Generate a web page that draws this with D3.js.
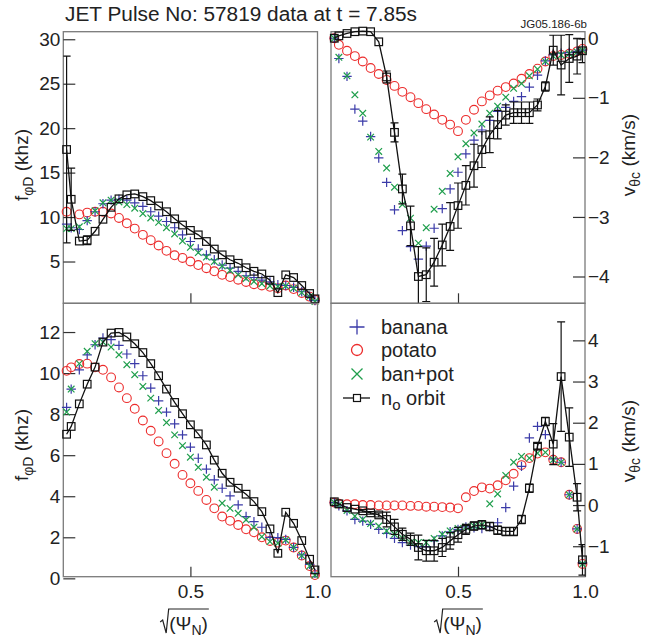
<!DOCTYPE html>
<html>
<head>
<meta charset="utf-8">
<script src="https://cdn.jsdelivr.net/npm/d3@7"></script>
<style>
  body { margin: 0; background: #fff; }
  text { font-family: "Liberation Sans", Arial, sans-serif; fill: #222; }
</style>
</head>
<body>
<svg id="chart"></svg>
<script>
// radial coordinate sqrt(psi_N), shared by every panel
const psi = [0.013, 0.031, 0.063, 0.094, 0.125, 0.156, 0.188, 0.219, 0.25, 0.281, 0.313, 0.344, 0.375, 0.406, 0.438, 0.469, 0.5,
             0.531, 0.563, 0.594, 0.625, 0.656, 0.688, 0.719, 0.75, 0.781, 0.813, 0.844, 0.875, 0.906, 0.938, 0.969, 0.99];

// top left: f_phiD (khz)
const bananaTL = [9.2, 8.8, 8.6, 9.6, 10.6, 11.5, 11.9, 12.0, 11.9, 11.6, 11.2, 10.6, 10.1, 9.5, 8.8, 8.0, 7.25,
                  6.4, 5.75, 5.2, 4.6, 4.25, 3.9, 3.4, 3.2, 2.9, 2.7, 2.4, 2.3, 2.1, 1.6, 1.1, 0.6];
const potatoTL = [10.6, null, 10.3, 10.5, 10.6, 10.6, 10.4, 9.9, 9.3, 8.7, 8.0, 7.4, 6.8, 6.2, 5.7, 5.4, 5.0,
                  4.6, 4.25, 3.9, 3.5, 3.25, 2.95, 2.7, 2.45, 2.3, 2.15, 2.0, 2.3, 1.9, 1.45, 1.05, 0.7];
const banpotTL = [8.7, 8.7, 8.9, 9.6, 10.7, 11.6, 11.9, 11.7, 11.4, 11.0, 10.4, 9.9, 9.4, 8.8, 8.1, 7.3, 6.6,
                  6.0, 5.5, 5.0, 4.5, 4.0, 3.5, 3.1, 2.75, 2.5, 2.25, 2.2, 2.25, 2.0, 1.5, 1.05, 0.5];
const orbitTL  = [17.6, 12.0, 7.3, 7.4, 8.4, 9.75, 11.1, 12.05, 12.5, 12.6, 12.3, 11.85, 11.25, 10.6, 9.8, 9.1, 8.5,
                  8.0, 7.25, 6.4, 5.75, 5.2, 4.8, 4.3, 3.9, 3.6, 2.9, 1.5, 3.5, 3.2, 2.3, 1.4, 0.8];
const orbitErrTL = [10.5, 3.5, 0, 0.5, 0, 0, 0, 0, 0, 0, 0, 0, 0, 0, 0, 0, 0,
                    0, 0, 0, 0, 0, 0, 0, 0, 0, 0, 0, 0, 0, 0, 0, 0];

// top right: v_thetac (km/s)
const bananaTR = [0, -0.34, -0.64, -1.19, -1.39, -1.65, -2.01, -2.42, -2.88, -3.23, -3.5, -3.71, -3.49, -3.19, -2.86, -2.53, -2.25,
                  -1.94, -1.71, -1.54, -1.38, -1.23, -1.16, -1.06, -0.98, -0.82, -0.62, -0.38, -0.28, -0.25, -0.24, -0.22, -0.2];
const potatoTR = [0, -0.11, -0.21, -0.30, -0.39, -0.50, -0.60, -0.70, -0.80, -0.90, -0.99, -1.09, -1.19, -1.28, -1.37, -1.45, -1.56,
                  -1.37, -1.20, -1.06, -0.96, -0.88, -0.82, -0.76, -0.68, -0.60, -0.51, -0.39, -0.30, -0.28, -0.26, -0.22, -0.18];
const banpotTR = [0, -0.32, -0.63, -0.95, -1.26, -1.66, -1.90, -2.18, -2.50, -2.79, -3.02, -3.44, -3.18, -2.87, -2.57, -2.27, -1.99,
                  -1.77, -1.59, -1.44, -1.26, -1.14, -0.99, -0.84, -0.76, -0.63, -0.52, -0.39, -0.30, -0.28, -0.26, -0.23, -0.2];
const orbitTR  = [0, 0.04, 0.08, 0.11, 0.12, 0.11, -0.06, -0.65, -1.58, -2.53, -3.15, -4.0, -3.97, -3.76, -3.47, -3.16, -2.81,
                  -2.47, -2.14, -1.87, -1.62, -1.45, -1.29, -1.25, -1.25, -1.25, -1.12, -0.81, -0.20, -0.45, -0.34, -0.30, -0.21];
const orbitErrTR = [0, 0, 0, 0, 0, 0, 0, 0.1, 0.16, 0.25, 0.33, 0.5, 0.45, 0.4, 0.35, 0.4, 0.38,
                    0.33, 0.36, 0.3, 0.3, 0.24, 0.17, 0.18, 0.18, 0.18, 0.1, 0.08, 0.25, 0.5, 0.4, 0.3, 0.2];

// bottom left: f_phiD (khz)
const bananaBL = [8.33, 9.22, 10.16, 10.89, 11.38, 11.71, 11.63, 11.35, 10.93, 10.46, 9.87, 9.27, 8.65, 8.10, 7.53, 6.99, 6.39,
                  5.85, 5.32, 4.80, 4.39, 4.02, 3.58, 3.01, 2.76, 2.49, 2.0, 1.98, 1.9, 1.51, 1.14, 0.68, 0.24];
const potatoBL = [10.11, 10.28, 10.44, 10.46, 10.28, 10.16, 9.79, 9.30, 8.78, 8.26, 7.69, 7.19, 6.67, 6.10, 5.58, 5.04, 4.63,
                  4.26, 3.82, 3.41, 3.01, 2.80, 2.60, 2.39, 2.24, 2.0, 1.82, 1.74, 1.84, 1.50, 1.11, 0.60, 0.16];
const banpotBL = [8.10, 9.22, 10.46, 11.06, 11.43, 11.51, 11.27, 10.89, 10.41, 9.92, 9.35, 8.78, 8.18, 7.59, 6.99, 6.46, 5.90,
                  5.41, 4.93, 4.44, 3.66, 3.41, 3.17, 2.85, 2.49, 2.03, 1.79, 1.71, 1.87, 1.51, 1.11, 0.60, 0.16];
const orbitBL  = [7.02, 7.40, 8.50, 9.46, 10.29, 11.51, 11.95, 11.98, 11.76, 11.43, 11.0, 10.46, 9.87, 9.22, 8.57, 8.02, 7.48,
                  7.04, 6.50, 5.76, 5.12, 4.68, 4.39, 4.10, 3.74, 3.25, 2.41, 1.22, 3.22, 2.68, 1.84, 0.93, 0.41];

// bottom right: v_thetac (km/s)
const bananaBR = [0.06, -0.02, -0.14, -0.35, -0.39, -0.47, -0.59, -0.69, -0.81, -0.91, -0.97, -1.01, -1.01, -0.87, -0.75, -0.65, -0.59,
                  -0.53, -0.55, -0.57, -0.53, -0.43, -0.06, 0.46, 0.94, 1.63, 1.91, 1.71, 1.12, 1.04, 0.25, -0.58, -1.40];
const potatoBR = [0.06, 0.03, 0.02, 0.02, 0.0, 0.0, -0.01, -0.01, -0.01, -0.01, -0.02, -0.02, -0.04, -0.04, -0.05, -0.06, -0.08,
                  0.19, 0.34, 0.43, 0.40, 0.48, 0.60, 0.76, 0.97, 1.14, 1.25, 1.28, 1.10, 1.04, 0.25, -0.58, -1.43];
const banpotBR = [0.06, 0.0, -0.13, -0.27, -0.35, -0.45, -0.51, -0.63, -0.71, -0.80, -0.91, -0.91, -0.91, -0.81, -0.71, -0.63, -0.57,
                  -0.53, -0.51, -0.48, 0.03, 0.27, 0.72, 1.04, 1.18, 1.14, 1.26, 1.28, 1.10, 1.04, 0.25, -0.58, -1.43];
const orbitBR  = [0.08, 0.03, -0.06, -0.10, -0.14, -0.19, -0.24, -0.35, -0.53, -0.71, -0.83, -1.03, -1.11, -1.11, -1.03, -0.87, -0.72,
                  -0.59, -0.51, -0.48, -0.52, -0.61, -0.64, -0.64, -0.35, 0.41, 1.43, 2.03, 1.48, 3.12, 1.65, 0.19, -1.33];
const orbitErrBR = [0, 0, 0, 0, 0.03, 0.03, 0.05, 0.18, 0.18, 0.15, 0.15, 0.3, 0.25, 0.25, 0.22, 0.2, 0.18,
                    0.12, 0.1, 0.1, 0.1, 0.1, 0.1, 0.1, 0.1, 0.1, 0.07, 0.1, 0.5, 1.33, 0.71, 0.33, 0.37];

// tick values
const fTicksTop = [5, 10, 15, 20, 25, 30];
const vTicksTop = [0, -1, -2, -3, -4];
const fTicksBot = [0, 2, 4, 6, 8, 10, 12];
const vTicksBot = [-1, 0, 1, 2, 3, 4];
const psiTicks = [0.5, 1.0];

const seriesNames = ["banana", "potato", "ban+pot"];
const colors = { banana: "#3a3aa8", potato: "#ec2c2c", banpot: "#1f9e4c", orbit: "#111" };

const width = 651, height = 638;
const svg = d3.select("#chart").attr("width", width).attr("height", height);

const colL = [63.3, 317.5], colR = [331, 585];
const rowT = [31.7, 303.3], rowB = [303.3, 576.7];

const panels = [
    { id: "tl", xr: colL, yr: rowT, dom: [0.3, 30.85], ticks: fTicksTop, side: "left", labels: false,
      banana: bananaTL, potato: potatoTL, banpot: banpotTL, orbit: orbitTL, err: orbitErrTL },
    { id: "tr", xr: colR, yr: rowT, dom: [-4.45, 0.11], ticks: vTicksTop, side: "right", labels: false,
      banana: bananaTR, potato: potatoTR, banpot: banpotTR, orbit: orbitTR, err: orbitErrTR },
    { id: "bl", xr: colL, yr: rowB, dom: [0.08, 13.4], ticks: fTicksBot, side: "left", labels: true,
      banana: bananaBL, potato: potatoBL, banpot: banpotBL, orbit: orbitBL, err: null },
    { id: "br", xr: colR, yr: rowB, dom: [-1.74, 4.9], ticks: vTicksBot, side: "right", labels: true,
      banana: bananaBR, potato: potatoBR, banpot: banpotBR, orbit: orbitBR, err: orbitErrBR }
];

function plusPath(x, y, s) { return `M${x - s},${y}H${x + s}M${x},${y - s}V${y + s}`; }
function crossPath(x, y, s) { return `M${x - s},${y - s}L${x + s},${y + s}M${x - s},${y + s}L${x + s},${y - s}`; }

function drawPanel(p) {
    const x = d3.scaleLinear().domain([0, 1]).range(p.xr);
    const y = d3.scaleLinear().domain(p.dom).range([p.yr[1], p.yr[0]]);
    const g = svg.append("g");

    svg.append("clipPath").attr("id", "clip-" + p.id)
        .append("rect")
        .attr("x", p.xr[0]).attr("y", p.yr[0])
        .attr("width", p.xr[1] - p.xr[0]).attr("height", p.yr[1] - p.yr[0]);

    g.append("rect")
        .attr("x", p.xr[0]).attr("y", p.yr[0])
        .attr("width", p.xr[1] - p.xr[0]).attr("height", p.yr[1] - p.yr[0])
        .attr("fill", "none").attr("stroke", "#7a7a7a").attr("stroke-width", 1.3);

    // y axis, ticks pointing inward
    const yAxis = (p.side === "left" ? d3.axisLeft(y) : d3.axisRight(y))
        .tickValues(p.ticks).tickSizeInner(-12).tickSizeOuter(0).tickPadding(3)
        .tickFormat(d3.format("d"));
    const ya = g.append("g")
        .attr("transform", `translate(${p.side === "left" ? p.xr[0] : p.xr[1]},0)`)
        .call(yAxis);
    ya.select(".domain").remove();
    ya.attr("font-size", 19).attr("font-family", null).attr("color", "#333");
    ya.selectAll("line").attr("stroke-width", 1.2);

    const xAxis = d3.axisBottom(x)
        .tickValues(p.labels ? psiTicks : [0.5]).tickSizeInner(-10).tickSizeOuter(0).tickPadding(8)
        .tickFormat(p.labels ? d3.format(".1f") : "");
    const xa = g.append("g").attr("transform", `translate(0,${p.yr[1]})`).call(xAxis);
    xa.select(".domain").remove();
    xa.attr("font-size", 19).attr("font-family", null).attr("color", "#333");
    xa.selectAll("line").attr("stroke-width", 1.2);

    const pts = arr => psi.map((v, i) => ({ x: x(v), y: arr[i] == null ? null : y(arr[i]), i: i }))
        .filter(d => d.y != null);

    // potato
    g.append("g").selectAll("circle").data(pts(p.potato)).enter().append("circle")
        .attr("cx", d => d.x).attr("cy", d => d.y).attr("r", 4.4)
        .attr("fill", "none").attr("stroke", colors.potato).attr("stroke-width", 1.1);
    // banana
    g.append("g").selectAll("path").data(pts(p.banana)).enter().append("path")
        .attr("d", d => plusPath(d.x, d.y, 4.7))
        .attr("stroke", colors.banana).attr("stroke-width", 1.2).attr("fill", "none");
    // ban+pot
    g.append("g").selectAll("path").data(pts(p.banpot)).enter().append("path")
        .attr("d", d => crossPath(d.x, d.y, 3.3))
        .attr("stroke", colors.banpot).attr("stroke-width", 1.2).attr("fill", "none");

    // n_o orbit: error bars, line, squares
    if (p.err) {
        const eb = g.append("g").attr("clip-path", `url(#clip-${p.id})`)
            .attr("stroke", colors.orbit).attr("stroke-width", 1.2).attr("fill", "none");
        psi.forEach((v, i) => {
            const e = p.err[i];
            if (!e) return;
            const cx = x(v), y0 = y(p.orbit[i] - e), y1 = y(p.orbit[i] + e);
            eb.append("path").attr("d", `M${cx},${y0}V${y1}M${cx - 4},${y0}H${cx + 4}M${cx - 4},${y1}H${cx + 4}`);
        });
    }
    const line = d3.line().x(d => d.x).y(d => d.y);
    g.append("path").datum(pts(p.orbit)).attr("d", line)
        .attr("fill", "none").attr("stroke", colors.orbit).attr("stroke-width", 1.3);
    g.append("g").selectAll("rect").data(pts(p.orbit)).enter().append("rect")
        .attr("x", d => d.x - 3.8).attr("y", d => d.y - 3.8).attr("width", 7.6).attr("height", 7.6)
        .attr("fill", "none").attr("stroke", colors.orbit).attr("stroke-width", 1.2);
}

panels.forEach(drawPanel);

// title and figure id
svg.append("text").attr("x", 65).attr("y", 20.5).attr("font-size", 20)
    .attr("textLength", 352).attr("lengthAdjust", "spacingAndGlyphs")
    .text("JET Pulse No: 57819 data at t = 7.85s");
svg.append("text").attr("x", 587).attr("y", 28).attr("font-size", 11.5).attr("text-anchor", "end")
    .text("JG05.186-6b");

// y labels
function yLabel(px, py, main, sub, rest) {
    const t = svg.append("text").attr("transform", `translate(${px},${py}) rotate(-90)`)
        .attr("text-anchor", "middle").attr("font-size", 19);
    t.append("tspan").text(main);
    t.append("tspan").attr("font-size", 14).attr("dy", 5).text(sub);
    t.append("tspan").attr("dy", -5).text(rest);
}
yLabel(28, 165, "f", "\u03c6D", " (khz)");
yLabel(28, 445, "f", "\u03c6D", " (khz)");
yLabel(635, 155, "v", "\u03b8c", " (km/s)");
yLabel(635, 441, "v", "\u03b8c", " (km/s)");

// x labels: sqrt(Psi_N) with a drawn radical sign
function psiLabel(cx) {
    const yb = 630;
    const t = svg.append("text").attr("y", yb).attr("font-size", 19);
    t.append("tspan").text("(\u03a8");
    t.append("tspan").attr("font-size", 14).attr("dy", 5).text("N");
    t.append("tspan").attr("dy", -5).text(")");
    const w = t.node().getComputedTextLength();
    const sx = cx - (w + 9) / 2 + 9;
    t.attr("x", sx);
    svg.append("path")
        .attr("d", `M${sx - 9},${yb - 8}L${sx - 6.5},${yb - 10}L${sx - 3},${yb + 3}L${sx - 0.5},${yb - 21}H${sx + w + 1}`)
        .attr("fill", "none").attr("stroke", "#222").attr("stroke-width", 1.2);
}
psiLabel(184);
psiLabel(458);

// legend in the bottom-right panel
const lg = svg.append("g");
const legY = [327, 350, 374, 398];
const symX = 357, txtX = 381;
lg.append("path").attr("d", plusPath(symX, legY[0], 7.5))
    .attr("stroke", colors.banana).attr("stroke-width", 1.3);
lg.append("circle").attr("cx", symX).attr("cy", legY[1]).attr("r", 5.5)
    .attr("fill", "none").attr("stroke", colors.potato).attr("stroke-width", 1.3);
lg.append("path").attr("d", crossPath(symX, legY[2], 5.5))
    .attr("stroke", colors.banpot).attr("stroke-width", 1.3);
lg.append("path").attr("d", `M${symX - 14},${legY[3]}H${symX + 13}`)
    .attr("stroke", colors.orbit).attr("stroke-width", 1.3);
lg.append("rect").attr("x", symX - 3.5).attr("y", legY[3] - 3.5).attr("width", 7).attr("height", 7)
    .attr("fill", "#fff").attr("stroke", colors.orbit).attr("stroke-width", 1.2);
seriesNames.forEach((n, i) => {
    lg.append("text").attr("x", txtX).attr("y", legY[i] + 7).attr("font-size", 20).text(n);
});
const nt = lg.append("text").attr("x", txtX).attr("y", legY[3] + 7).attr("font-size", 20);
nt.append("tspan").text("n");
nt.append("tspan").attr("font-size", 15).attr("dy", 5).text("o");
nt.append("tspan").attr("dy", -5).text(" orbit");
</script>
</body>
</html>
